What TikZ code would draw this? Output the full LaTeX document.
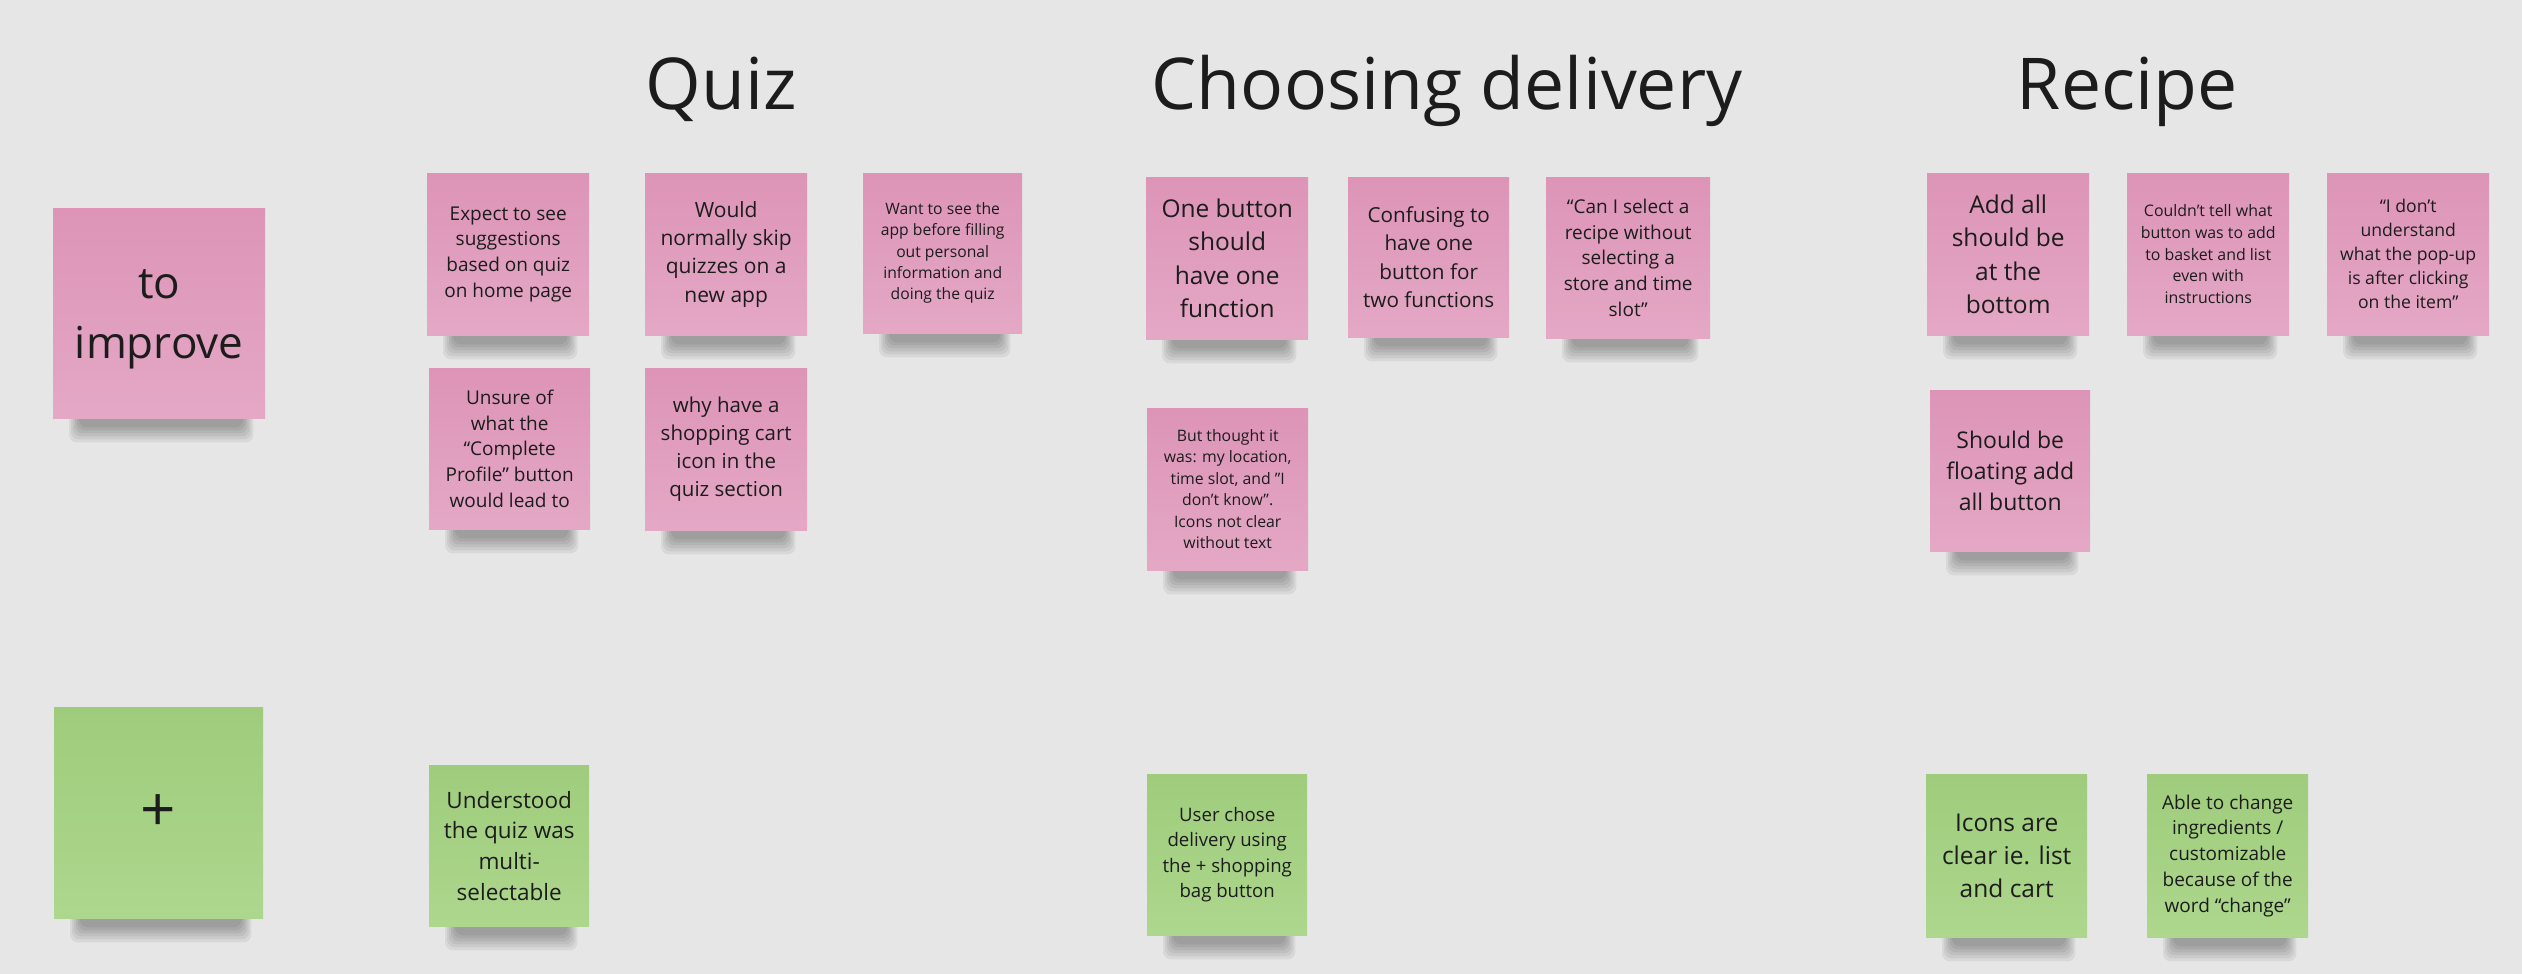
\documentclass[tikz,border=0pt]{standalone}
\usepackage{fontspec}
\setmainfont{Open Sans}
\usetikzlibrary{calc}
\definecolor{paper}{HTML}{E6E6E6}
\definecolor{ink}{HTML}{1C1C1C}
\definecolor{pinkT}{HTML}{DD94B7}
\definecolor{pinkB}{HTML}{E4A8C5}
\definecolor{greenT}{HTML}{9FCC7C}
\definecolor{greenB}{HTML}{ADD78D}
\pgfdeclarelayer{paperlayer}
\pgfdeclarelayer{shadowlayer}
\pgfsetlayers{paperlayer,shadowlayer,main}
\tikzset{
  note/.style={anchor=north west, inner sep=0pt, align=center, text=ink},
  pinknote/.style={note, top color=pinkT, bottom color=pinkB},
  greennote/.style={note, top color=greenT, bottom color=greenB},
  wh/.style n args={2}{minimum width=#1pt, minimum height=#2pt},
  fs/.style n args={2}{font=\fontsize{#1}{#2}\selectfont},
  header/.style={anchor=base, text=ink, font=\fontsize{71.5}{88}\selectfont},
}
\begin{document}
\begin{tikzpicture}[x=1pt,y=-1pt]
\useasboundingbox (0,0) rectangle (2522,974);
\begin{pgfonlayer}{paperlayer}
\fill[paper] (0,0) rectangle (2522,974);
\end{pgfonlayer}

% headers
\node[header] (hq) at (721,110) {Quiz};
\node[header] (hd) at (1447,110) {Choosing delivery};
\node[header] (hr) at (2127,110) {Recipe};

% row labels
\node[pinknote, wh={212}{210}, fs={44}{60}] (imp) at (53,208) {\strut to\\improve};
\node[greennote, wh={209}{211}, fs={62}{70}] (plus) at (54,707) {+};

% Quiz
\node[pinknote, wh={162}{162}, fs={19}{25.7}] (q1) at (427,173) {Expect to see\\suggestions\\based on quiz\\on home page};
\node[pinknote, wh={162}{162}, fs={21}{28.3}] (q2) at (645,173) {Would\\normally skip\\quizzes on a\\new app};
\node[pinknote, wh={159}{160}, fs={15.7}{21.3}] (q3) at (863,173) {Want to see the\\app before filling\\out personal\\information and\\doing the quiz};
\node[pinknote, wh={161}{161}, fs={19}{25.6}] (q4) at (429,368) {Unsure of\\what the\\“Complete\\Profile” button\\would lead to};
\node[pinknote, wh={162}{162}, fs={20.5}{27.8}] (q5) at (645,368) {why have a\\shopping cart\\icon in the\\quiz section};
\node[greennote, wh={160}{161}, fs={22.5}{30.7}] (qp) at (429,765) {Understood\\the quiz was\\multi-\\selectable};

% Choosing delivery
\node[pinknote, wh={162}{162}, fs={24.5}{33.3}] (d1) at (1146,177) {One button\\should\\have one\\function};
\node[pinknote, wh={161}{160}, fs={20.7}{28.1}] (d2) at (1348,177) {Confusing to\\have one\\button for\\two functions};
\node[pinknote, wh={164}{161}, fs={19}{25.8}] (d3) at (1546,177) {“Can I select a\\recipe without\\selecting a\\store and time\\slot”};
\node[pinknote, wh={161}{162}, fs={15.8}{21.5}] (d4) at (1147,408) {But thought it\\was: my location,\\time slot, and ”I\\don’t know”.\\Icons not clear\\without text};
\node[greennote, wh={160}{161}, fs={18.6}{25.3}] (dp) at (1147,774) {User chose\\delivery using\\the + shopping\\bag button};

% Recipe
\node[pinknote, wh={162}{162}, fs={24.5}{33.3}] (r1) at (1927,173) {Add all\\should be\\at the\\bottom};
\node[pinknote, wh={162}{162}, fs={15.9}{21.6}] (r2) at (2127,173) {Couldn’t tell what\\button was to add\\to basket and list\\even with\\instructions};
\node[pinknote, wh={162}{162}, fs={17.6}{24}] (r3) at (2327,173) {“I don’t\\understand\\what the pop-up\\is after clicking\\on the item”};
\node[pinknote, wh={160}{161}, fs={23}{31.2}] (r4) at (1930,390) {Should be\\floating add\\all button};
\node[greennote, wh={161}{163}, fs={24.5}{33.3}] (rp1) at (1926,774) {Icons are\\clear ie. list\\and cart};
\node[greennote, wh={161}{163}, fs={19}{25.8}] (rp2) at (2147,774) {Able to change\\ingredients /\\customizable\\because of the\\word “change”};

% shadows
\begin{pgfonlayer}{shadowlayer}
\foreach \n in {imp,plus,q1,q2,q3,q4,q5,qp,d1,d2,d3,d4,dp,r1,r2,r3,r4,rp1,rp2}{
  \foreach \k in {0,...,5}{
    \fill[black, opacity=0.06, rounded corners=8pt]
      ($(\n.south west)+(16+2*\k,-12)$) rectangle ($(\n.south east)+(-12-2*\k,24-3*\k)$);
  }
}
\end{pgfonlayer}
\end{tikzpicture}
\end{document}
